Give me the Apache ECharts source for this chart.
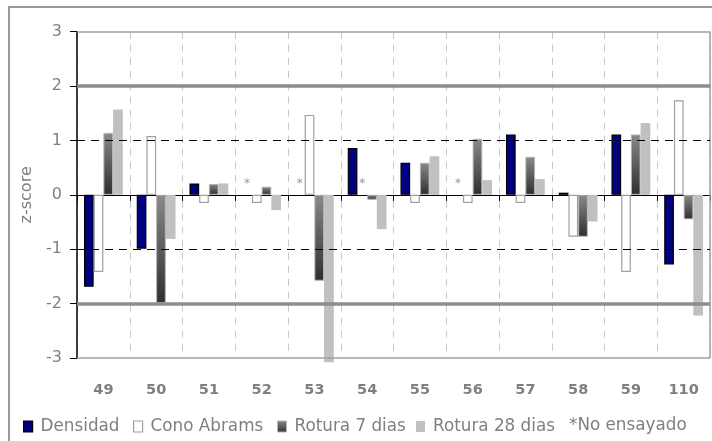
<!DOCTYPE html>
<html>
<head>
<meta charset="utf-8">
<script src="https://cdn.jsdelivr.net/npm/echarts@6/dist/echarts.min.js"></script>
<style>
  html, body { margin: 0; padding: 0; background: #fff; }
  #chart { width: 712px; height: 441px; }
</style>
</head>
<body>
<div id="chart"></div>
<script>
// Laboratories and their z-scores per test
const labs = ['49', '50', '51', '52', '53', '54', '55', '56', '57', '58', '59', '110'];
const yTicks = [-3, -2, -1, 0, 1, 2, 3];
// null = test not performed (marked with *)
const densidad   = [-1.69, -0.99, 0.21, null, null, 0.86, 0.59, null, 1.11, 0.04, 1.11, -1.28];
const conoAbrams = [-1.42, 1.08, -0.15, -0.15, 1.47, null, -0.15, -0.15, -0.15, -0.77, -1.42, 1.74];
const rotura7    = [1.14, -1.99, 0.20, 0.15, -1.58, -0.09, 0.59, 1.03, 0.70, -0.77, 1.11, -0.45];
const rotura28   = [1.57, -0.81, 0.21, -0.28, -3.08, -0.63, 0.71, 0.27, 0.29, -0.49, 1.32, -2.22];
const seriesNames = ['Densidad', 'Cono Abrams', 'Rotura 7 dias', 'Rotura 28 dias'];
const notTestedNote = '*No ensayado';

const FONT = 'DejaVu Sans';
const GREY_TEXT = '#7f7f7f';

const chart = echarts.init(document.getElementById('chart'));

const r7Gradient = new echarts.graphic.LinearGradient(0, 0, 0, 1, [
  { offset: 0, color: '#8a8a8a' },
  { offset: 1, color: '#2e2e2e' }
]);

const seriesStyles = [
  { color: '#000080', borderColor: '#000', borderWidth: 1.2 },
  { color: '#fff', borderColor: '#a0a0a0', borderWidth: 1.2 },
  { color: r7Gradient, borderColor: '#b4b4b4', borderWidth: 1 },
  { color: '#c0c0c0', borderWidth: 0 }
];

// Missing values become invisible zero-height bars carrying a "*" label
function toData(arr) {
  return arr.map(v => v === null
    ? {
        value: 0,
        itemStyle: { color: 'transparent', borderWidth: 0 },
        label: {
          show: true, position: 'top', distance: 5, formatter: '*',
          color: '#999', fontSize: 12, fontFamily: FONT
        }
      }
    : v);
}

const barCommon = {
  type: 'bar',
  xAxisIndex: 0,
  barWidth: 9.7,
  barGap: '0%',
  clip: false,
  animation: false,
  z: 3
};

const refLine = (y, style) => ({ yAxis: y, lineStyle: style });

// one legend block per series so each entry sits at its own x
const legendLefts = [18, 128, 272, 411];
const legends = seriesNames.map((name, i) => ({
  left: legendLefts[i],
  top: 413,
  icon: 'rect',
  itemWidth: 9,
  itemHeight: 11,
  selectedMode: false,
  textStyle: { fontFamily: FONT, fontSize: 16.8, color: GREY_TEXT, padding: [0, 0, 0, 3] },
  data: [{ name, itemStyle: seriesStyles[i] }]
}));

const option = {
  animation: false,
  grid: { left: 77, right: 2, top: 31.7, bottom: 83, containLabel: false },
  legend: legends,
  xAxis: [
    {
      type: 'category',
      data: labs,
      position: 'bottom',
      axisLine: { onZero: true, lineStyle: { color: '#000', width: 1 } },
      axisTick: { show: true, length: 6, lineStyle: { color: '#000' } },
      axisLabel: { show: false },
      splitLine: { show: true, lineStyle: { color: '#c8c8c8', type: [7, 6], width: 1 } }
    },
    {
      type: 'category',
      data: labs,
      position: 'bottom',
      axisLine: { show: false, onZero: false },
      axisTick: { show: false },
      axisLabel: {
        show: true, margin: 25, fontFamily: FONT, fontSize: 14.5,
        fontWeight: 'bold', color: GREY_TEXT
      },
      splitLine: { show: false }
    }
  ],
  yAxis: {
    type: 'value',
    min: yTicks[0],
    max: yTicks[yTicks.length - 1],
    interval: 1,
    name: 'z-score',
    nameLocation: 'middle',
    nameGap: 41,
    nameRotate: 90,
    nameTextStyle: { fontFamily: FONT, fontSize: 16, color: GREY_TEXT },
    axisLine: { show: true, onZero: false, lineStyle: { color: '#000', width: 1.5 } },
    axisTick: { show: true, length: 7, lineStyle: { color: '#000' } },
    axisLabel: {
      margin: 15, fontFamily: FONT, fontSize: 16, color: GREY_TEXT,
      formatter: v => (yTicks.includes(v) ? String(v) : '')
    },
    splitLine: { show: false }
  },
  series: [
    Object.assign({}, barCommon, {
      name: seriesNames[0],
      data: toData(densidad),
      itemStyle: seriesStyles[0],
      markLine: {
        silent: true,
        symbol: 'none',
        label: { show: false },
        animation: false,
        data: [
          refLine(3, { color: '#a0a0a0', width: 1.5, type: 'solid' }),
          refLine(-3, { color: '#a0a0a0', width: 1.5, type: 'solid' }),
          refLine(2, { color: '#8c8c8c', width: 3.5, type: 'solid' }),
          refLine(-2, { color: '#8c8c8c', width: 3.5, type: 'solid' }),
          refLine(1, { color: '#000', width: 1, type: [8, 6] }),
          refLine(-1, { color: '#000', width: 1, type: [8, 6] })
        ]
      }
    }),
    Object.assign({}, barCommon, {
      name: seriesNames[1],
      data: toData(conoAbrams),
      itemStyle: seriesStyles[1]
    }),
    Object.assign({}, barCommon, {
      name: seriesNames[2],
      data: toData(rotura7),
      itemStyle: seriesStyles[2]
    }),
    Object.assign({}, barCommon, {
      name: seriesNames[3],
      data: toData(rotura28),
      itemStyle: seriesStyles[3]
    })
  ],
  graphic: [
    // outer chart frame and right plot border
    {
      type: 'rect', silent: true, z: 0,
      shape: { x: 9, y: 7, width: 720, height: 460 },
      style: { fill: 'none', stroke: '#999', lineWidth: 2 }
    },
    {
      type: 'line', silent: true, z: 1,
      shape: { x1: 710, y1: 31.7, x2: 710, y2: 358 },
      style: { stroke: '#a0a0a0', lineWidth: 1.5 }
    },
    {
      type: 'text', silent: true,
      x: 569, y: 425.5,
      style: {
        text: notTestedNote, fontFamily: FONT, fontSize: 16.8,
        fill: GREY_TEXT, verticalAlign: 'middle'
      }
    }
  ]
};

chart.setOption(option);
</script>
</body>
</html>
